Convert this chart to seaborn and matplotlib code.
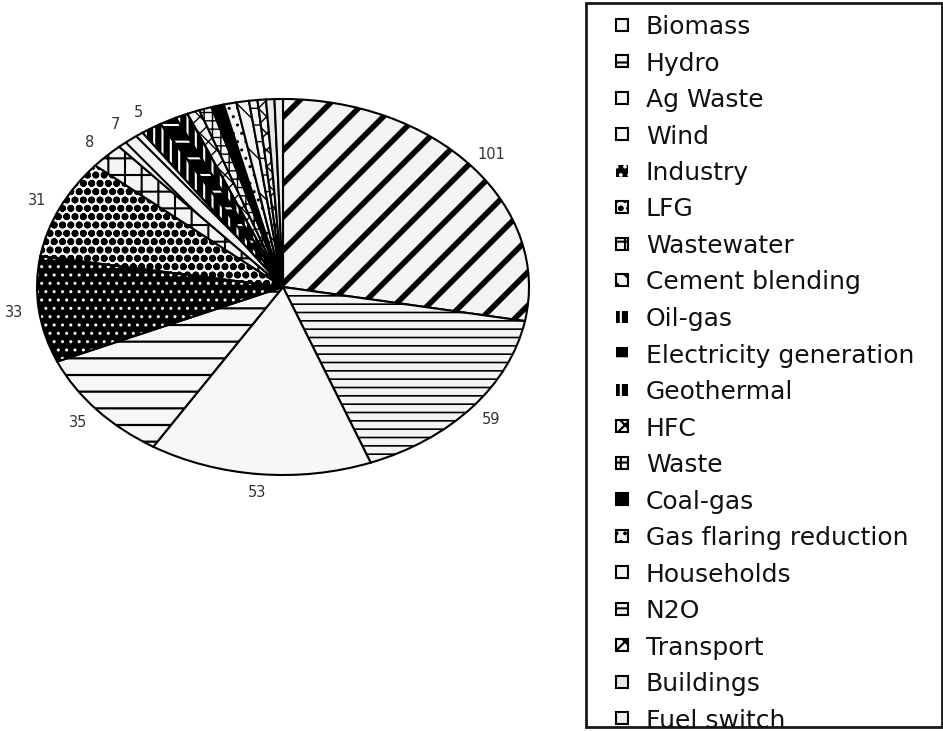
import matplotlib
matplotlib.use("Agg")
import matplotlib.pyplot as plt
import seaborn as sns
from matplotlib.legend_handler import HandlerPatch
from matplotlib.patches import Rectangle, Wedge

# ---- data ----
categories = ["Biomass", "Hydro", "Ag Waste", "Wind", "Industry", "LFG",
              "Wastewater", "Cement blending", "Oil-gas", "Electricity generation",
              "Geothermal", "HFC", "Waste", "Coal-gas", "Gas flaring reduction",
              "Households", "N2O", "Transport", "Buildings", "Fuel switch"]
values = [101, 59, 53, 35, 33, 31, 8, 7, 5, 4, 3, 3, 3, 3, 3, 3, 2, 2, 2, 2]

# ---- styles ----
face_colors = ["#f4f4f4", "#f4f4f4", "#f7f7f7", "#f7f7f7", "#000000", "#f4f4f4",
               "#f4f4f4", "#f4f4f4", "#000000", "#000000",
               "#000000", "#f4f4f4", "#f4f4f4", "#000000", "#f4f4f4",
               "#f4f4f4", "#f4f4f4", "#f4f4f4", "#e8e8e8", "#eeeeee"]
edge_colors = ["#000000", "#000000", "#000000", "#000000", "#ffffff", "#000000",
               "#000000", "#000000", "#ffffff", "#ffffff",
               "#ffffff", "#000000", "#000000", "#000000", "#000000",
               "#000000", "#000000", "#000000", "#000000", "#000000"]
hatches = ["/", "--", "", "-", "..", "oo",
           "+", "\\\\", "||", "-",
           "||", "xx", "++", "", "..",
           "\\", "-", "xx", "", ""]
hatch_widths = [4.0, 1.2, 1.0, 1.6, 1.0, 2.5,
                1.5, 1.5, 1.5, 1.5,
                1.5, 1.0, 1.0, 1.0, 1.0,
                1.0, 1.0, 1.0, 1.0, 1.0]

sns.set_theme(style="white")
plt.rcParams["font.family"] = ["DejaVu Sans"]
plt.rcParams["hatch.linewidth"] = 1.5

W, H = 943, 731
fig = plt.figure(figsize=(W / 100, H / 100), dpi=100)
fig.patch.set_facecolor("white")

# elliptical pie: centre and radii in pixels
cx, cy, rx, ry = 283, 287, 246, 188
kx, ky = 1.15, 1.35
ax = fig.add_axes([(cx - kx * rx) / W, 1 - (cy + ky * ry) / H,
                   2 * kx * rx / W, 2 * ky * ry / H])

total = sum(values)


def fmt(p):
    v = int(round(p * total / 100.0))
    return f"{v}" if v >= 5 else ""


wedges, texts, autotexts = ax.pie(
    values, startangle=90, counterclock=False, autopct=fmt, pctdistance=1.1,
    wedgeprops=dict(linewidth=1.5),
    textprops=dict(fontsize=10.5, color="#333333"))
ax.set_aspect("auto")
ax.set_xlim(-kx, kx)
ax.set_ylim(-ky, ky)
ax.axis("off")

for w, fc, ec, h, hw in zip(wedges, face_colors, edge_colors, hatches, hatch_widths):
    w.set_facecolor(fc)
    w.set_edgecolor(ec)
    w.set_hatch(h)
    if ec == "#ffffff":
        w.set_linewidth(0)
    if hasattr(w, "set_hatch_linewidth"):
        w.set_hatch_linewidth(hw)

# black outline on top of wedges whose hatch is white
for w, ec in zip(wedges, edge_colors):
    if ec == "#ffffff":
        o = Wedge(w.center, w.r, w.theta1, w.theta2, fill=False,
                  edgecolor="black", linewidth=1.5, transform=w.get_transform())
        ax.add_patch(o)


def make_square(legend, orig_handle, xdescent, ydescent, width, height, fontsize):
    s = 12 * 72 / 100.0
    return Rectangle((width - s, 0.365 * fontsize - s / 2), s, s)


fs = 18
leg = fig.legend(
    handles=wedges, labels=categories, loc="upper left",
    bbox_to_anchor=(603 / W, 1 - 15 / H), bbox_transform=fig.transFigure,
    frameon=False, fontsize=fs, borderpad=0, borderaxespad=0,
    handlelength=1.0, handleheight=0.7, handletextpad=0.72,
    labelspacing=0.5,
    handler_map={w: HandlerPatch(patch_func=make_square) for w in wedges})
for t in leg.get_texts():
    t.set_color("#111111")

fig.add_artist(Rectangle((586 / W, 1 - 727 / H), 356 / W, 724 / H,
                         transform=fig.transFigure, fill=False,
                         edgecolor="#1a1a1a", linewidth=2))

fig.savefig("out.png", dpi=100, facecolor="white")
